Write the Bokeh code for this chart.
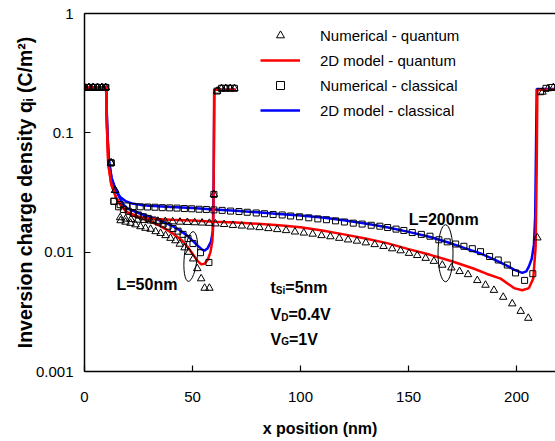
from bokeh.plotting import figure
from bokeh.models import FixedTicker, LinearAxis, Legend, LegendItem, Range1d
from bokeh.core.properties import value
from bokeh.embed import file_html
from bokeh.resources import INLINE

FONT = "Liberation Sans"

# ---------------- data ----------------
x_ticks = [0, 50, 100, 150, 200]
y_ticks = [0.001, 0.01, 0.1, 1]
y_tick_labels = ["0.001", "0.01", "0.1", "1"]

# L = 50 nm
x50_num_q = [0, 2, 4, 6, 8, 9.8, 12.3, 14.2, 16.7, 19.0, 21.3, 23.6, 25.9, 28.2, 30.6, 32.9, 35.2, 37.5,
             39.8, 42.1, 44.1, 46.3, 48.3, 50.3, 52.2, 54.0, 55.6, 57.8, 59.9, 61.4, 63.4, 65.4, 67.4, 69.4]
y50_num_q = [0.24, 0.24, 0.24, 0.24, 0.24, 0.24, 0.056, 0.033, 0.0184, 0.0179, 0.0175, 0.0170, 0.0164, 0.0159,
             0.0156, 0.0149, 0.0144, 0.0138, 0.0131, 0.0125, 0.0117, 0.0109, 0.0100, 0.0088, 0.0073, 0.0060,
             0.0050, 0.0050, 0.0305, 0.224, 0.236, 0.236, 0.236, 0.236]
x50_num_c = [0, 2, 4, 6, 8, 9.8, 12.3, 13.6, 15.8, 18.0, 20.3, 22.6, 24.9, 27.2, 29.5, 31.8, 34.1, 36.4, 38.7,
             41.0, 43.3, 45.6, 47.9, 50.2, 53.7, 57.6, 59.9, 61.4, 63.4, 65.4, 67.4, 69.4]
y50_num_c = [0.24, 0.24, 0.24, 0.24, 0.24, 0.24, 0.056, 0.0267, 0.0240, 0.0228, 0.0220, 0.0212, 0.0205, 0.0198,
             0.0192, 0.0186, 0.0179, 0.0172, 0.0165, 0.0158, 0.0150, 0.0141, 0.0130, 0.0118, 0.0099, 0.0082,
             0.0305, 0.224, 0.236, 0.236, 0.236, 0.236]
x50_mod_q = [0, 10, 10.4, 11, 12.4, 14.7, 17, 19.8, 24, 29, 35, 41, 45, 47.5, 50, 52.2, 54, 55.5, 57, 58.3,
             59.2, 59.7, 60, 70]
y50_mod_q = [0.24, 0.24, 0.11, 0.055, 0.037, 0.0284, 0.0245, 0.0213, 0.0198, 0.0186, 0.0166, 0.0143, 0.0126,
             0.0112, 0.0097, 0.0085, 0.0079, 0.0080, 0.0086, 0.0100, 0.0125, 0.02, 0.23, 0.23]
x50_mod_c = [0, 10, 10.5, 11.2, 12.5, 14.5, 16.5, 18, 20, 25, 30, 35, 40, 44, 47.5, 50, 52.5, 54.5, 55.5, 57,
             58.5, 59.4, 59.8, 60.1, 70]
y50_mod_c = [0.24, 0.24, 0.11, 0.06, 0.042, 0.033, 0.028, 0.025, 0.0232, 0.0213, 0.0198, 0.0184, 0.0168, 0.0153,
             0.0138, 0.0125, 0.0113, 0.0105, 0.0103, 0.0108, 0.0122, 0.015, 0.04, 0.23, 0.23]

# L = 200 nm
x200_num_q = [0, 2, 4, 6, 8, 9.8, 12.3, 14.2, 16.5, 19.0, 21.5, 24.5, 27.5, 30.6, 34.0, 37.4, 40.8, 44.2, 47.6,
              51.0, 54.4, 57.8, 60.6, 64.6, 68.7, 72.8, 76.9, 81.0, 85.1, 89.2, 93.3, 97.4, 101.5, 105.6, 109.7,
              113.8, 117.9, 122.0, 126.1, 130.2, 134.3, 138.4, 142.4, 146.3, 150.2, 154.0, 157.9, 161.7, 165.6,
              169.8, 173.6, 177.5, 181.8, 185.6, 189.5, 193.8, 198.0, 201.9, 205.4, 209.6, 212.0, 214.5, 217.0]
y200_num_q = [0.24, 0.24, 0.24, 0.24, 0.24, 0.24, 0.056, 0.033,
              0.0195, 0.0190, 0.0188, 0.0186, 0.0185, 0.0183, 0.0182, 0.0181, 0.0180, 0.0179, 0.0178, 0.0177,
              0.0176, 0.0175,
              0.0173, 0.0171, 0.0168, 0.0166, 0.0163, 0.0161, 0.0158, 0.0155, 0.0152, 0.0148, 0.0145, 0.0142,
              0.0138, 0.0135, 0.0131, 0.0127, 0.0124, 0.0120, 0.0116, 0.0112,
              0.0107, 0.0103, 0.0098, 0.0094, 0.0089, 0.0084, 0.0078, 0.0074, 0.0069, 0.0065, 0.0058, 0.0053,
              0.0048, 0.0042, 0.0037, 0.0032, 0.0028,
              0.0132, 0.22, 0.235, 0.24]
x200_num_c = [0, 2, 4, 6, 8, 9.8, 12.3, 13.6, 16.5, 19.5, 22.5, 25.8, 29.2, 32.6, 36.0, 39.4, 42.8, 46.2, 49.6,
              53.0, 56.4, 59.9, 63.7, 67.6, 71.5, 75.3, 79.5, 83.3, 87.3, 91.5, 95.4, 99.5, 103.8, 108.0, 112.0,
              116.2, 120.3, 124.4, 128.5, 132.7, 136.7, 140.3, 144.2, 147.8, 151.7, 155.9, 159.9, 164.0, 167.9,
              171.8, 175.6, 179.5, 183.3, 187.5, 191.5, 195.7, 199.5, 203.7, 207.5, 211.1, 213.6, 216.2]
y200_num_c = [0.24, 0.24, 0.24, 0.24, 0.24, 0.24, 0.056, 0.0267,
              0.0250, 0.0244, 0.0241, 0.0240, 0.0239, 0.0238, 0.0236, 0.0235, 0.0234, 0.0232, 0.0231, 0.0229,
              0.0228,
              0.0226, 0.0224, 0.0221, 0.0219, 0.0216, 0.0213, 0.0210, 0.0207, 0.0205, 0.0201, 0.0198, 0.0194,
              0.0190, 0.0187, 0.0183, 0.0179, 0.0175, 0.0172, 0.0168, 0.0165, 0.0161,
              0.0156, 0.0152, 0.0146, 0.0141, 0.0136, 0.0127, 0.0122, 0.0117, 0.0112, 0.0107, 0.0101, 0.0092,
              0.0086, 0.0078, 0.0067, 0.0058, 0.0066,
              0.221, 0.236, 0.24]
x200_mod_q = [0, 10, 10.4, 11, 12.4, 14.7, 17, 20, 25, 30, 40, 50, 60, 70, 80, 90, 100, 110, 120, 130, 140, 150,
              160, 170, 180, 186, 192.6, 198.8, 202.6, 205.7, 207.7, 208.8, 209.3, 209.6, 218]
y200_mod_q = [0.24, 0.24, 0.11, 0.055, 0.037, 0.0284, 0.0245, 0.0215, 0.0198, 0.0191, 0.0187, 0.0184, 0.0180,
              0.0177, 0.0173, 0.0168, 0.0162, 0.0152, 0.0141, 0.0130, 0.0119, 0.0106, 0.0095, 0.0084, 0.0073,
              0.0066, 0.0060, 0.0050, 0.0048, 0.0050, 0.0060, 0.011, 0.05, 0.23, 0.23]
x200_mod_c = [0, 10, 10.5, 11.2, 12.5, 14.5, 16.5, 19, 22, 26, 30, 40, 50, 60, 70, 80, 90, 100, 110, 120, 130,
              140, 150, 160, 168, 176, 183, 190, 195, 199, 202.6, 204.5, 205.7, 207, 208, 208.6, 209, 209.3, 218]
y200_mod_c = [0.24, 0.24, 0.11, 0.06, 0.042, 0.033, 0.029, 0.0268, 0.0256, 0.0249, 0.0245, 0.0239, 0.0234,
              0.0228, 0.0222, 0.0216, 0.0209, 0.0203, 0.0195, 0.0185, 0.0174, 0.0162, 0.0148, 0.0134, 0.0121,
              0.0108, 0.0098, 0.0086, 0.0078, 0.0071, 0.0067, 0.0069, 0.0076, 0.0088, 0.0115, 0.02, 0.08,
              0.233, 0.233]

legend_labels = ["Numerical - quantum", "2D model - quantum", "Numerical - classical", "2D model - classical"]

# ---------------- figure ----------------
p = figure(width=555, height=441, x_range=Range1d(0, 218), y_range=Range1d(0.001, 1),
           y_axis_type="log", output_backend="svg", toolbar_location=None,
           min_border_left=84, min_border_right=0, min_border_top=13, min_border_bottom=70)
p.outline_line_color = None
p.xgrid.visible = False
p.ygrid.visible = False
p.background_fill_color = "white"
p.border_fill_color = "white"

xa = p.below[0]
ya = p.left[0]

top_axis = LinearAxis(ticker=FixedTicker(ticks=[]), major_label_text_font_size="0px",
                      major_tick_line_color=None, minor_tick_line_color=None,
                      major_label_standoff=0, axis_line_color="black", axis_line_width=1.5)
p.add_layout(top_axis, "above")

xa.ticker = FixedTicker(ticks=x_ticks)
ya.ticker = FixedTicker(ticks=y_ticks)
ya.major_label_overrides = {t: lab for t, lab in zip(y_ticks, y_tick_labels)}
for ax in (xa, ya):
    ax.axis_line_color = "black"
    ax.axis_line_width = 1.5
    ax.major_tick_in = 6
    ax.major_tick_out = 0
    ax.major_tick_line_color = "black"
    ax.major_tick_line_width = 1.2
    ax.minor_tick_line_color = None
    ax.major_label_text_font = FONT
    ax.major_label_text_font_size = "15px"
    ax.major_label_text_color = "black"
    ax.axis_label_text_font = FONT
    ax.axis_label_text_font_style = "bold"
    ax.axis_label_text_color = "black"
xa.axis_label = "x position (nm)"
xa.axis_label_text_font_size = "16px"
xa.major_label_standoff = 20
xa.axis_label_standoff = 15
ya.axis_label = "Inversion charge density q\u1d62 (C/m\u00b2)"
ya.axis_label_text_font_size = "19.5px"
ya.major_label_standoff = 11
ya.axis_label_standoff = -3

LW = 2.5
RED = "#ff0000"
BLUE = "#0000ff"
rb50 = p.line(x50_mod_c, y50_mod_c, line_color=BLUE, line_width=LW)
rb200 = p.line(x200_mod_c, y200_mod_c, line_color=BLUE, line_width=LW)
rr50 = p.line(x50_mod_q, y50_mod_q, line_color=RED, line_width=LW)
rr200 = p.line(x200_mod_q, y200_mod_q, line_color=RED, line_width=LW)

tri_kw = dict(marker="triangle", size=7.5, fill_color=None, line_color="black", line_width=1)
sq_kw = dict(marker="square", size=6, fill_color=None, line_color="black", line_width=1)
rt50 = p.scatter(x50_num_q, y50_num_q, **tri_kw)
rt200 = p.scatter(x200_num_q, y200_num_q, **tri_kw)
rs50 = p.scatter(x50_num_c, y50_num_c, **sq_kw)
rs200 = p.scatter(x200_num_c, y200_num_c, **sq_kw)

legend = Legend(items=[LegendItem(label=legend_labels[0], renderers=[rt50]),
                       LegendItem(label=legend_labels[1], renderers=[rr50]),
                       LegendItem(label=legend_labels[2], renderers=[rs50]),
                       LegendItem(label=legend_labels[3], renderers=[rb50])],
                location=(176, 251), padding=0, margin=0, spacing=5, label_standoff=20,
                glyph_width=40, glyph_height=20, label_height=20,
                border_line_color=None, background_fill_alpha=0,
                label_text_font=FONT, label_text_font_size="15px", label_text_color="black")
p.add_layout(legend)

# ---------------- annotations ----------------
txt = dict(text_font=value(FONT), text_font_style="bold", text_color="black",
           text_baseline="alphabetic", text_align="left")
p.text(x=[14.8], y=[0.00532], text=["L=50nm"], text_font_size="16px", **txt)
p.text(x=[150.1], y=[0.0189], text=["L=200nm"], text_font_size="16px", **txt)

cond_x = 86.1
# t_Si = 5nm
p.text(x=[cond_x], y=[0.00505], text=["t"], text_font_size="16px", **txt)
p.text(x=[cond_x], y=[0.00505], text=["Si"], text_font_size="10px", x_offset=5.3, y_offset=2.5, **txt)
p.text(x=[cond_x], y=[0.00505], text=["=5nm"], text_font_size="16px", x_offset=14.8, **txt)
# V_D = 0.4V
p.text(x=[cond_x], y=[0.00298], text=["V"], text_font_size="16px", **txt)
p.text(x=[cond_x], y=[0.00298], text=["D"], text_font_size="10px", x_offset=10.7, y_offset=2.5, **txt)
p.text(x=[cond_x], y=[0.00298], text=["=0.4V"], text_font_size="16px", x_offset=17.9, **txt)
# V_G = 1V
p.text(x=[cond_x], y=[0.00187], text=["V"], text_font_size="16px", **txt)
p.text(x=[cond_x], y=[0.00187], text=["G"], text_font_size="10px", x_offset=10.7, y_offset=2.5, **txt)
p.text(x=[cond_x], y=[0.00187], text=["=1V"], text_font_size="16px", x_offset=18.5, **txt)

p.ellipse(x=[49.2], y=[0.0092], width=13, height=50, width_units="screen", height_units="screen",
          angle=-0.1, fill_color=None, line_color="black", line_width=1)
p.ellipse(x=[167.1], y=[0.0098], width=15, height=57, width_units="screen", height_units="screen",
          angle=0.0, fill_color=None, line_color="black", line_width=1)

open("out.html", "w").write(file_html(p, INLINE))
